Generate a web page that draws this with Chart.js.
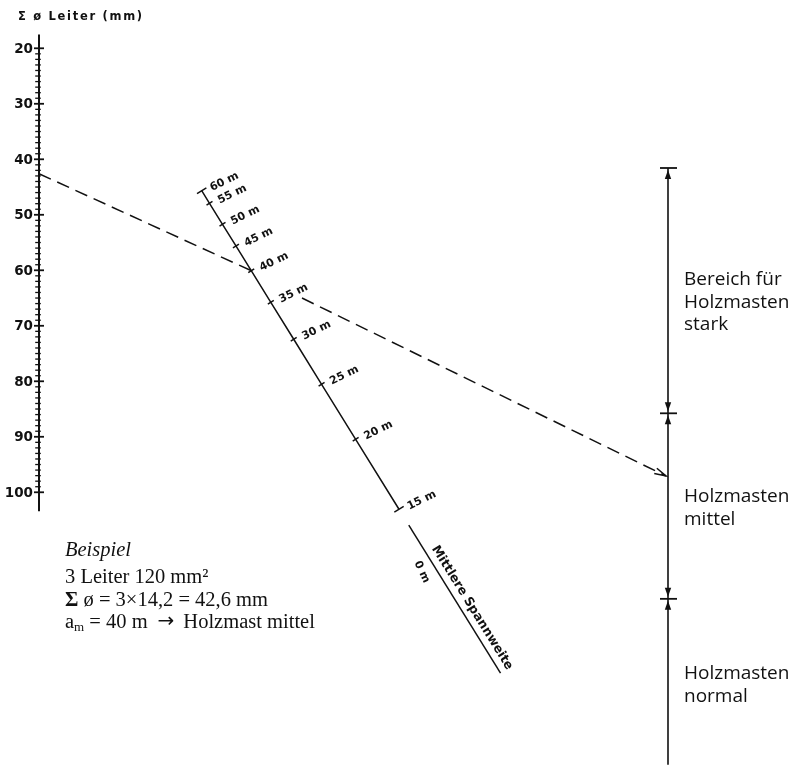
<!DOCTYPE html>
<html>
<head>
<meta charset="utf-8">
<script src="https://cdn.jsdelivr.net/npm/chart.js@4.4.1/dist/chart.umd.min.js"></script>
<style>
  html, body { margin: 0; padding: 0; background: #fff; }
  #wrap { width: 798px; height: 768px; }
</style>
</head>
<body>
<div id="wrap"><canvas id="nomogram"></canvas></div>
<script>
// left scale: sum of conductor diameters (mm)
const leiterTicks = [20, 30, 40, 50, 60, 70, 80, 90, 100];
const leiterRange = [17.5, 103.4];
// middle scale: mean span (m), and where each mark sits against the left scale
const spanLabels = [60, 55, 50, 45, 40, 35, 30, 25, 20, 15];
const spanPos = [45.66, 47.93, 51.71, 55.62, 60.07, 65.77, 72.43, 80.54, 90.45, 103.06];
const spanTail = [105.9, 132.6];
// right scale: wooden pole classes, boundaries against the left scale
const mastBounds = [41.57, 85.77, 119.2, 149.1];
const mastClasses = [
  ["Bereich für", "Holzmasten", "stark"],
  ["Holzmasten", "mittel"],
  ["Holzmasten", "normal"]
];
// worked example
const exampleSum = 42.6;
const exampleSpan = 40;
const exampleBend = 65.0;
const exampleResult = 97.07;

// layout (x in pixels, the chart fills the canvas)
const X_LEFT = 39, SPAN_X0 = 201.7, SPAN_X1 = 399, X_RIGHT = 668, X_BEND = 302;
const spanX = (s) => SPAN_X0 + (s - spanPos[0]) * (SPAN_X1 - SPAN_X0) / (spanPos[spanPos.length - 1] - spanPos[0]);

const minorTicks = [];
for (let v = 21; v <= 99; v++) if (v % 10 !== 0) minorTicks.push({ x: X_LEFT - 1, y: v });

const ex40 = spanPos[spanLabels.indexOf(exampleSpan)];

const textPlugin = {
  id: 'nomoText',
  afterDatasetsDraw(chart) {
    const { ctx, scales: { x, y } } = chart;
    const px = (v) => x.getPixelForValue(v);
    const py = (v) => y.getPixelForValue(v);
    ctx.save();
    ctx.fillStyle = '#111';
    ctx.strokeStyle = '#111';

    // title
    ctx.font = 'bold 11.5px "DejaVu Sans"';
    ctx.letterSpacing = '1.7px';
    ctx.textBaseline = 'alphabetic';
    ctx.fillText('Σ ø Leiter (mm)', 18, 20);
    ctx.letterSpacing = '0px';

    // left tick labels
    ctx.font = 'bold 13.5px "DejaVu Sans"';
    ctx.textAlign = 'right';
    ctx.textBaseline = 'middle';
    leiterTicks.forEach(t => ctx.fillText(String(t), px(X_LEFT) - 6, py(t) + 1));

    // span labels, rotated across the line
    const a0 = { x: px(spanX(spanPos[0])), y: py(spanPos[0]) };
    const a1 = { x: px(spanX(spanPos[9])), y: py(spanPos[9]) };
    const ang = Math.atan2(a1.y - a0.y, a1.x - a0.x);
    const perp = ang - Math.PI / 2;
    ctx.font = 'bold 11px "DejaVu Sans"';
    ctx.textAlign = 'left';
    ctx.textBaseline = 'middle';
    spanLabels.forEach((m, i) => {
      ctx.save();
      ctx.translate(px(spanX(spanPos[i])), py(spanPos[i]));
      ctx.rotate(perp + 0.1);
      ctx.fillText(m + ' m', 9, 2);
      ctx.restore();
    });

    // axis caption along the tail
    ctx.save();
    ctx.translate(px(spanX(spanTail[0])), py(spanTail[0]));
    ctx.rotate(ang);
    ctx.font = 'bold 12.5px "DejaVu Sans"';
    ctx.textAlign = 'left';
    ctx.textBaseline = 'alphabetic';
    ctx.fillText('Mittlere Spannweite', 32, -7);
    ctx.restore();
    ctx.save();
    ctx.translate(px(spanX(spanTail[0])) + 13, py(spanTail[0]) + 47);
    ctx.rotate(ang + 0.12);
    ctx.font = 'bold 11px "DejaVu Sans"';
    ctx.textAlign = 'center';
    ctx.textBaseline = 'middle';
    ctx.fillText('0 m', 0, 0);
    ctx.restore();

    // right axis end bars and arrowheads
    ctx.lineWidth = 1.8;
    const xr = px(X_RIGHT);
    [mastBounds[0], mastBounds[1], mastBounds[2]].forEach(b => {
      ctx.beginPath();
      ctx.moveTo(xr - 8, py(b));
      ctx.lineTo(xr + 9, py(b));
      ctx.stroke();
    });
    const head = (tipY, dir) => {
      ctx.beginPath();
      ctx.moveTo(xr, tipY);
      ctx.lineTo(xr - 3.2, tipY + dir * 9);
      ctx.lineTo(xr + 3.2, tipY + dir * 9);
      ctx.closePath();
      ctx.fill();
    };
    head(py(mastBounds[0]) + 2, 1);
    head(py(mastBounds[1]) - 2, -1);
    head(py(mastBounds[1]) + 2, 1);
    head(py(mastBounds[2]) - 2, -1);
    head(py(mastBounds[2]) + 2, 1);

    // arrow at the end of the example line
    const tx = px(X_RIGHT) - 2, ty = py(exampleResult);
    const da = Math.atan2(ty - py(exampleBend), tx - px(X_BEND));
    ctx.lineWidth = 1.5;
    ctx.beginPath();
    ctx.moveTo(tx - 12 * Math.cos(da - 0.25), ty - 12 * Math.sin(da - 0.25));
    ctx.lineTo(tx, ty);
    ctx.lineTo(tx - 12 * Math.cos(da + 0.25), ty - 12 * Math.sin(da + 0.25));
    ctx.stroke();

    // class labels
    ctx.font = '19px "Open Sans"';
    ctx.textAlign = 'left';
    ctx.textBaseline = 'alphabetic';
    const blockTop = [285, 502, 679];
    mastClasses.forEach((lines, i) => {
      lines.forEach((t, j) => ctx.fillText(t, 684, blockTop[i] + j * 22.5));
    });

    // example text
    const F = 20.5;
    ctx.font = `italic ${F}px "Liberation Serif"`;
    ctx.fillText('Beispiel', 65, 556);
    ctx.font = `${F}px "Liberation Serif"`;
    ctx.fillText('3 Leiter 120 mm²', 65, 583);
    ctx.font = `bold ${F}px "Liberation Serif"`;
    ctx.fillText('Σ', 65, 606);
    let cx = 65 + ctx.measureText('Σ').width;
    ctx.font = `${F}px "Liberation Serif"`;
    ctx.fillText(' ø = 3×14,2 = ' + String(exampleSum).replace('.', ',') + ' mm', cx, 606);
    // last line is written in pieces: subscript and arrow
    const pieces = [
      ['a', `${F}px "Liberation Serif"`, 0, 0],
      ['m', '13px "Liberation Serif"', 3, 0],
      [' = ' + exampleSpan + ' m', `${F}px "Liberation Serif"`, 0, 10],
      ['→', '20px "DejaVu Sans"', -1, 9],
      ['Holzmast mittel', `${F}px "Liberation Serif"`, 0, 0]
    ];
    cx = 65;
    pieces.forEach(([t, f, dy, gap]) => {
      ctx.font = f;
      ctx.fillText(t, cx, 628 + dy);
      cx += ctx.measureText(t).width + gap;
    });

    ctx.restore();
  }
};

const black = '#111';
const SPAN_ROT = Math.atan2(1.615, 1) * 180 / Math.PI + 90;

new Chart(document.getElementById('nomogram'), {
  type: 'scatter',
  data: {
    datasets: [
      { // left axis line
        type: 'line',
        data: [{ x: X_LEFT, y: leiterRange[0] }, { x: X_LEFT, y: leiterRange[1] }],
        borderColor: black, borderWidth: 2, pointRadius: 0
      },
      { // minor graduations
        data: minorTicks,
        pointStyle: 'line', pointRadius: 2.8, borderColor: black, borderWidth: 1.3
      },
      { // major graduations
        data: leiterTicks.map(t => ({ x: X_LEFT, y: t })),
        pointStyle: 'line', pointRadius: 5, borderColor: black, borderWidth: 1.8
      },
      { // span scale line with marks
        type: 'line',
        data: spanPos.map(s => ({ x: spanX(s), y: s })),
        borderColor: black, borderWidth: 1.5,
        pointStyle: 'line',
        pointRotation: SPAN_ROT,
        pointRadius: (c) => (c.dataIndex === 0 || c.dataIndex === spanPos.length - 1) ? 5.5 : 3.5,
        pointBorderColor: black, pointBorderWidth: 1.5
      },
      { // span scale tail
        type: 'line',
        data: spanTail.map(s => ({ x: spanX(s), y: s })),
        borderColor: black, borderWidth: 1.5, pointRadius: 0
      },
      { // right axis
        type: 'line',
        data: [{ x: X_RIGHT, y: mastBounds[0] }, { x: X_RIGHT, y: mastBounds[3] }],
        borderColor: black, borderWidth: 1.6, pointRadius: 0
      },
      { // example: left scale to span mark
        type: 'line',
        data: [{ x: X_LEFT, y: exampleSum }, { x: spanX(ex40), y: ex40 }],
        borderColor: black, borderWidth: 1.5, borderDash: [13, 7], pointRadius: 0
      },
      { // example: on to the pole class
        type: 'line',
        data: [{ x: X_BEND, y: exampleBend }, { x: X_RIGHT - 2, y: exampleResult }],
        borderColor: black, borderWidth: 1.5, borderDash: [13, 7], pointRadius: 0
      }
    ]
  },
  options: {
    responsive: true,
    maintainAspectRatio: false,
    animation: false,
    layout: { padding: 0, autoPadding: false },
    plugins: { legend: { display: false }, tooltip: { enabled: false } },
    scales: {
      x: { type: 'linear', min: 0, max: 798, display: false },
      y: { type: 'linear', min: 11.3, max: 149.68, reverse: true, display: false }
    }
  },
  plugins: [textPlugin]
});
</script>
</body>
</html>
